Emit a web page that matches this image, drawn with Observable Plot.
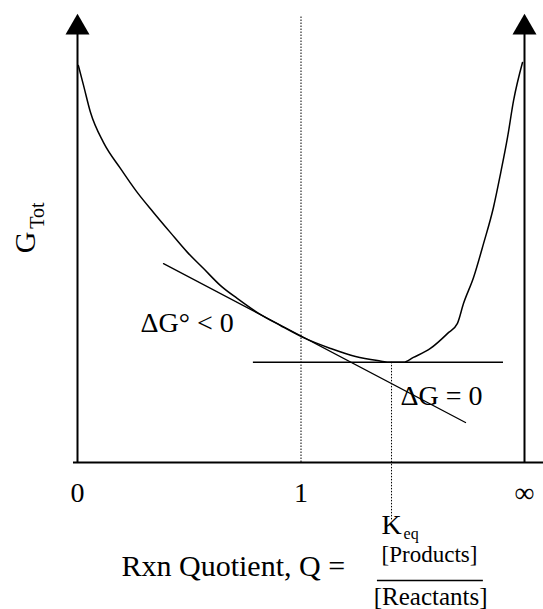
<!DOCTYPE html>
<html>
<head>
<meta charset="utf-8">
<script src="https://cdn.jsdelivr.net/npm/d3@7"></script>
<script src="https://cdn.jsdelivr.net/npm/@observablehq/plot@0.6"></script>
<style>
  html, body { margin: 0; padding: 0; background: #fff; }
</style>
</head>
<body>
<div id="chart"></div>
<script>
// Reaction quotient position (0 = "0", 1 = "1", 2 = "∞") and total free energy
const curveQ = [0.004, 0.027, 0.058, 0.116, 0.192, 0.268, 0.340, 0.416, 0.492, 0.564, 0.640, 0.716, 0.805, 0.908, 1.011, 1.132, 1.244, 1.342, 1.405, 1.459, 1.503, 1.579, 1.655, 1.700, 1.727, 1.772, 1.817, 1.861, 1.893, 1.924, 1.951, 1.991];
const curveG = [8.84, 8.40, 7.80, 7.13, 6.55, 6.01, 5.57, 5.12, 4.68, 4.32, 3.94, 3.65, 3.34, 3.05, 2.78, 2.54, 2.36, 2.27, 2.23, 2.23, 2.34, 2.54, 2.87, 3.10, 3.54, 4.12, 4.88, 5.68, 6.44, 7.24, 8.06, 8.91];

// tangent line at Q = 1 (slope = ΔG°)
const tangentQ = [0.385, 1.736];
const tangentG = [4.43, 0.89];

// horizontal tangent at the minimum (ΔG = 0)
const flatQ = [0.787, 1.906];
const keqQ = 1.405;
const minG = 2.23;

const tickValues = [0, 1, 2];
const tickLabels = ["0", "1", "∞"];

const curve = curveQ.map((q, i) => ({q, g: curveG[i]}));
const tangent = tangentQ.map((q, i) => ({q, g: tangentG[i]}));

const serif = "'Liberation Serif', 'Times New Roman', serif";

const chart = Plot.plot({
  width: 543,
  height: 609,
  marginLeft: 77,
  marginRight: 19,
  marginTop: 13,
  marginBottom: 147,
  style: {fontFamily: serif, background: "#fff", color: "#000", overflow: "visible"},
  x: {domain: [0, 2], axis: null},
  y: {domain: [0, 10], axis: null},
  marks: [
    // axes frame
    Plot.ruleX([0, 2], {y1: 0, y2: 9.7, stroke: "#000", strokeWidth: 2}),
    Plot.ruleY([0], {x1: -0.018, x2: 2.085, stroke: "#000", strokeWidth: 2}),
    Plot.dot([0, 2], {x: d => d, y: 10, dy: 14, symbol: "triangle", r: 8.9, fill: "#000", stroke: "none"}),
    Plot.axisX({ticks: tickValues, tickFormat: d => tickLabels[tickValues.indexOf(d)], tickSize: 0, tickPadding: 20, fontSize: 28, fill: "#000", label: null}),
    // dotted guides
    Plot.ruleX([1], {y1: 0, y2: 9.95, stroke: "#000", strokeWidth: 1, strokeDasharray: "1.5,1.5"}),
    Plot.ruleX([keqQ], {y1: minG, y2: -1.29, stroke: "#000", strokeWidth: 1, strokeDasharray: "1.5,1.5"}),
    // tangent lines
    Plot.line(tangent, {x: "q", y: "g", stroke: "#000", strokeWidth: 1.3}),
    Plot.ruleY([minG], {x1: flatQ[0], x2: flatQ[1], stroke: "#000", strokeWidth: 1.5}),
    // free-energy curve
    Plot.line(curve, {x: "q", y: "g", curve: "monotone-x", stroke: "#000", strokeWidth: 1.5}),
    // annotations
    Plot.text(["ΔG° < 0"], {x: 0.282, y: 3.10, textAnchor: "start", fontSize: 28, fill: "#000"}),
    Plot.text(["ΔG = 0"], {x: 1.445, y: 1.47, textAnchor: "start", fontSize: 28, fill: "#000"}),
    Plot.text(["K"], {x: keqQ, y: -1.40, fontSize: 28, fill: "#000"}),
    Plot.text(["eq"], {x: 1.459, y: -1.58, textAnchor: "start", fontSize: 16, fill: "#000"}),
    Plot.text(["Rxn Quotient, Q ="], {x: 0.197, y: -2.32, textAnchor: "start", fontSize: 30, fill: "#000"}),
    Plot.text(["[Products]"], {x: 1.575, y: -2.06, fontSize: 23, fill: "#000"}),
    Plot.ruleY([-2.63], {x1: 1.342, x2: 1.816, stroke: "#000", strokeWidth: 1.5}),
    Plot.text(["[Reactants]"], {x: 1.58, y: -3.0, fontSize: 25, fill: "#000"}),
    // y label G_Tot
    Plot.text(["G"], {x: -0.233, y: 4.90, rotate: -90, fontSize: 30, fill: "#000"}),
    Plot.text(["Tot"], {x: -0.179, y: 5.50, rotate: -90, fontSize: 20, fill: "#000"})
  ]
});
document.getElementById("chart").appendChild(chart);
</script>
</body>
</html>
